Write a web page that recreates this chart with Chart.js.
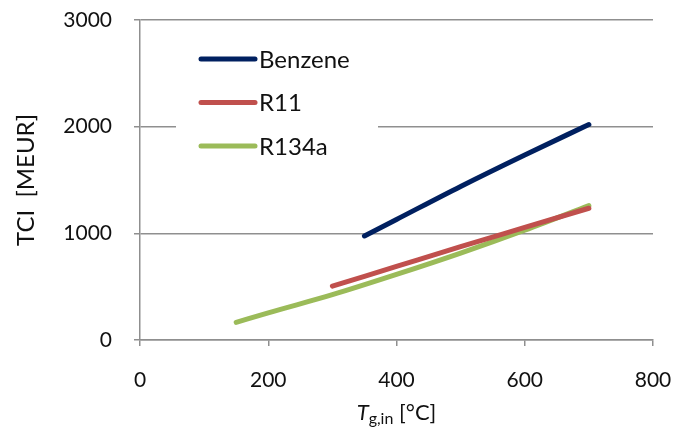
<!DOCTYPE html>
<html>
<head>
<meta charset="utf-8">
<script src="https://cdn.jsdelivr.net/npm/chart.js@4.4.1/dist/chart.umd.min.js"></script>
<style>
  html, body { margin: 0; padding: 0; background: #fff; }
  #wrap { position: relative; width: 674px; height: 434px; }
  #xTitle {
    position: absolute; left: 140px; width: 513px; top: 398px;
    text-align: center; font: 22px Lato, sans-serif; color: #111;
  }
  #xTitle sub { font-size: 16px; vertical-align: -4px; }
</style>
</head>
<body>
<div id="wrap">
  <canvas id="c" width="674" height="434"></canvas>
  <div id="xTitle"><i>T</i><sub>g,in</sub> [°C]</div>
</div>
<script>
const benzeneT   = [350, 400, 500, 600, 700];
const benzeneTCI = [975, 1130, 1440, 1735, 2020];
const r11T       = [300, 400, 500, 600, 700];
const r11TCI     = [505, 690, 875, 1055, 1235];
const r134aT     = [150, 200, 300, 400, 500, 600, 700];
const r134aTCI   = [165, 255, 425, 615, 815, 1030, 1260];

const xTicks = [0, 200, 400, 600, 800];
const yTicks = [0, 1000, 2000, 3000];

const GRID = '#8f8f8f';
const FONT = { family: 'Lato', size: 21 };

const pts = (xs, ys) => xs.map((x, i) => ({ x, y: ys[i] }));

const series = [
  { label: 'Benzene', data: pts(benzeneT, benzeneTCI), borderColor: '#002060' },
  { label: 'R11',     data: pts(r11T, r11TCI),         borderColor: '#c0504d' },
  { label: 'R134a',   data: pts(r134aT, r134aTCI),     borderColor: '#9bbb59' },
].map(s => ({ ...s, borderWidth: 5, pointRadius: 0, borderCapStyle: 'round',
              cubicInterpolationMode: 'monotone', fill: false }));

// legend sits inside the plot, over a white box that hides the 2000 gridline
const insideLegend = {
  id: 'insideLegend',
  beforeDatasetsDraw(chart) {
    const ctx = chart.ctx;
    ctx.save();
    ctx.fillStyle = '#fff';
    ctx.fillRect(176, 38, 202, 124);
    ctx.font = '24px Lato';
    ctx.textBaseline = 'middle';
    chart.data.datasets.forEach((ds, i) => {
      const y = 59 + i * 43.5;
      ctx.strokeStyle = ds.borderColor;
      ctx.lineWidth = 5;
      ctx.lineCap = 'round';
      ctx.beginPath(); ctx.moveTo(201, y); ctx.lineTo(255, y); ctx.stroke();
      ctx.fillStyle = '#111';
      ctx.fillText(ds.label, 259, y + 1);
    });
    ctx.restore();
  }
};

new Chart(document.getElementById('c'), {
  type: 'line',
  data: { datasets: series },
  plugins: [insideLegend],
  options: {
    responsive: false,
    animation: false,
    layout: { padding: { top: 20, right: 21 } },
    plugins: { legend: { display: false }, tooltip: { enabled: false } },
    scales: {
      x: {
        type: 'linear', min: 0, max: 800,
        afterBuildTicks: s => { s.ticks = xTicks.map(v => ({ value: v })); },
        afterFit: s => { s.height = 94; s.paddingLeft = 0; s.paddingRight = 0; },
        grid: { drawOnChartArea: false, drawTicks: true, tickLength: 6, color: GRID, lineWidth: 1.5 },
        border: { color: GRID, width: 1.5 },
        ticks: { font: FONT, color: '#111', padding: 22, maxRotation: 0, callback: v => String(v) }
      },
      y: {
        min: 0, max: 3000,
        afterBuildTicks: s => { s.ticks = yTicks.map(v => ({ value: v })); },
        afterFit: s => { s.width = 140; s.paddingTop = 0; s.paddingBottom = 0; },
        grid: { color: GRID, lineWidth: 1.5, drawTicks: true, tickLength: 6 },
        border: { color: GRID, width: 1.5 },
        ticks: { font: FONT, color: '#111', padding: 22, callback: v => String(v) },
        title: { display: true, text: 'TCI  [MEUR]', font: { family: 'Lato', size: 24 }, color: '#111', padding: { top: 12 } }
      }
    }
  }
});
</script>
</body>
</html>
